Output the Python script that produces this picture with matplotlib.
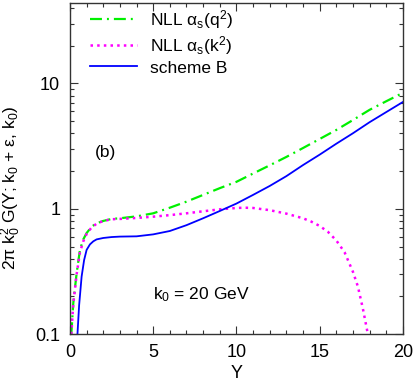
import matplotlib
matplotlib.use("Agg")
import matplotlib.pyplot as plt
from matplotlib.ticker import MultipleLocator, LogLocator, FixedLocator, NullFormatter, FixedFormatter

plt.rcParams['font.family'] = ['Liberation Sans', 'DejaVu Sans']
plt.rcParams['mathtext.fontset'] = 'custom'
plt.rcParams['mathtext.rm'] = 'Liberation Sans'
plt.rcParams['mathtext.it'] = 'Liberation Sans:italic'
plt.rcParams['lines.scale_dashes'] = False

# Data
green_Y = [0.08, 0.2, 0.4, 0.6, 0.8, 1.0, 1.3, 1.6, 2.0, 2.5, 3.0, 4.0, 5.0, 6.0, 7.0,
           8.0, 9.0, 10.0, 11.0, 12.0, 13.0, 14.0, 15.0, 16.0, 17.0, 18.0, 19.0, 20.0]
green_v = [0.1, 0.177, 0.306, 0.47, 0.57, 0.64, 0.72, 0.766, 0.80, 0.83, 0.84, 0.87, 0.92,
           1.02, 1.14, 1.29, 1.46, 1.64, 1.91, 2.22, 2.59, 3.05, 3.6, 4.25, 5.1, 6.15, 7.2, 8.4]

magenta_Y = [0.08, 0.2, 0.4, 0.6, 0.8, 1.0, 1.3, 1.6, 2.0, 2.5, 3.0, 4.0, 5.0, 6.0, 7.0, 8.0,
             9.0, 10.0, 10.5, 11.0, 12.0, 13.0, 14.0, 14.5, 15.0, 15.5, 16.0, 16.5, 17.0,
             17.3, 17.6, 17.9]
magenta_v = [0.1, 0.175, 0.3, 0.45, 0.55, 0.63, 0.71, 0.76, 0.80, 0.825, 0.83, 0.845, 0.865,
             0.89, 0.92, 0.955, 0.99, 1.015, 1.02, 1.015, 0.975, 0.915, 0.84, 0.79, 0.73,
             0.655, 0.56, 0.45, 0.315, 0.24, 0.16, 0.1]

blue_Y = [0.45, 0.55, 0.7, 0.85, 1.0, 1.2, 1.4, 1.6, 2.0, 2.5, 3.0, 4.0, 5.0, 6.0, 7.0, 8.0, 9.0,
          10.0, 11.0, 12.0, 13.0, 14.0, 15.0, 16.0, 17.0, 18.0, 19.0, 20.0]
blue_v = [0.1, 0.17, 0.288, 0.39, 0.47, 0.52, 0.55, 0.57, 0.585, 0.595, 0.6, 0.603, 0.625,
          0.665, 0.74, 0.84, 0.96, 1.1, 1.29, 1.52, 1.82, 2.23, 2.7, 3.3, 4.0, 4.9, 5.9, 7.1]

labels = [r'NLL α$_{\mathrm{s}}$(q$^{2}$)', r'NLL α$_{\mathrm{s}}$(k$^{2}$)', 'scheme B']
x_ticks = [0, 5, 10, 15, 20]
y_ticks = [0.1, 1, 10]
y_ticklabels = ['0.1', '1', '10']

fig = plt.figure(figsize=(4.14, 3.85), dpi=100)
ax = fig.add_axes([0.169, 0.132, 0.804, 0.861])

ax.plot(green_Y, green_v, color='#00f000', lw=1.6, linestyle=(0, (8.6, 3.6, 1.4, 3.6)),
        label=labels[0])
ax.plot(magenta_Y, magenta_v, color='#ff00ff', lw=1.8, linestyle=(0, (1.8, 3.0)),
        dash_capstyle='butt', label=labels[1])
ax.plot(blue_Y, blue_v, color='#0000ff', lw=1.3, label=labels[2])

ax.set_yscale('log')
ax.set_xlim(0, 20)
ax.set_ylim(0.1, 44)

ax.xaxis.set_major_locator(FixedLocator(x_ticks))
ax.xaxis.set_minor_locator(MultipleLocator(1))
ax.yaxis.set_major_locator(FixedLocator(y_ticks))
ax.yaxis.set_major_formatter(FixedFormatter(y_ticklabels))
ax.yaxis.set_minor_locator(LogLocator(base=10, subs=range(2, 10)))
ax.yaxis.set_minor_formatter(NullFormatter())

ax.tick_params(which='both', direction='in', top=True, right=True, labelsize=13,
               color='#333333', width=0.8)
ax.tick_params(which='major', length=6, pad=7)
ax.tick_params(which='minor', length=3)
for s in ax.spines.values():
    s.set_linewidth(1.0)
    s.set_color('#333333')

ax.set_xlabel('Y', fontsize=13, labelpad=3)
ax.set_ylabel(r'2π k$_{0}^{2}$ G(Y; k$_{0}$ + ε, k$_{0}$)', fontsize=12.5)
ax.yaxis.set_label_coords(-0.14, 0.44)

ax.text(0.075, 0.534, '(b)', transform=ax.transAxes, fontsize=12.5)
ax.text(0.25, 0.105, r'k$_{0}$ = 20 GeV', transform=ax.transAxes, fontsize=12.5)

leg = ax.legend(loc='upper left', frameon=False, fontsize=12.5, handlelength=2.7,
                handletextpad=0.75, labelspacing=0.2, borderaxespad=0.0, borderpad=0.0,
                bbox_to_anchor=(0.06, 0.985))

fig.savefig('out.png', dpi=100)
